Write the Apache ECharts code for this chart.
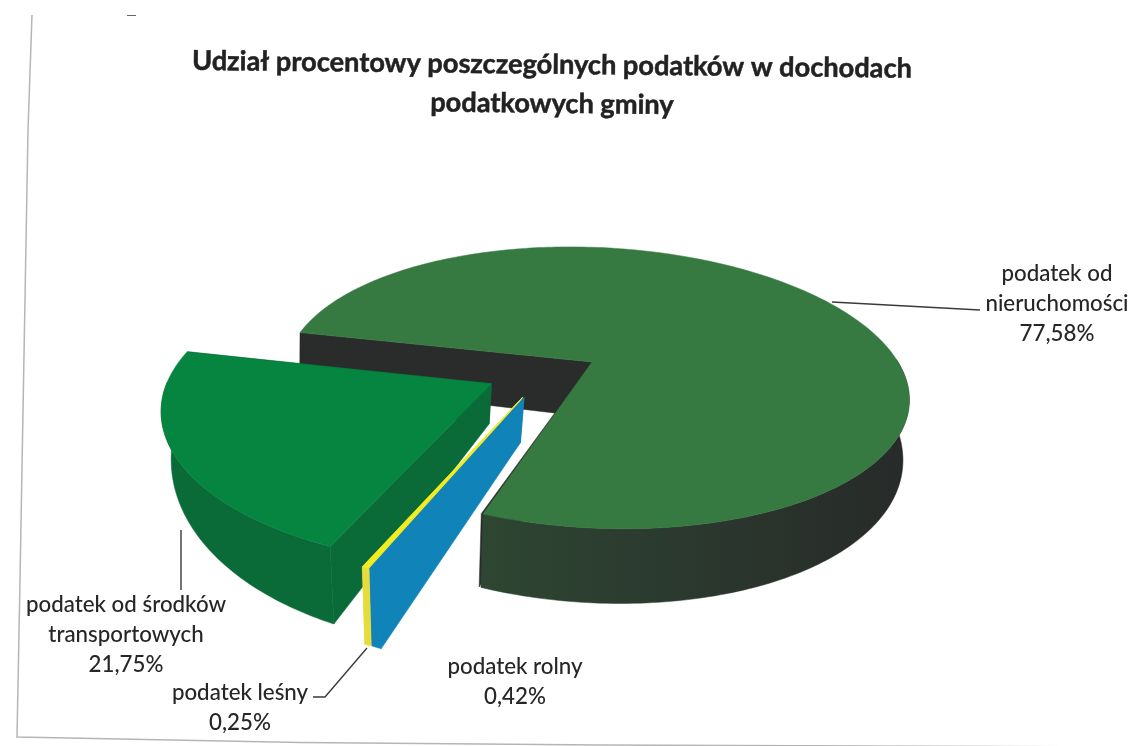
<!DOCTYPE html>
<html>
<head>
<meta charset="utf-8">
<title>Udział procentowy podatków</title>
<script src="https://cdn.jsdelivr.net/npm/echarts@6/dist/echarts.min.js"></script>
<style>
html, body { margin: 0; padding: 0; background: #fff; }
#main { width: 1131px; height: 746px; }
</style>
</head>
<body>
<div id="main"></div>
<script>
var categories = ['podatek od\nnieruchomości', 'podatek rolny', 'podatek leśny', 'podatek od środków\ntransportowych'];
var values = [77.58, 0.42, 0.25, 21.75];
var titleLines = ['Udział procentowy poszczególnych podatków w dochodach', 'podatkowych gminy'];

// look of the slices, same order as categories
var topColors = ['#377a41', '#1083b8', '#f2ee1e', '#05853f'];
var cutColors = ['#2a2b2b', '#1083b8', '#e6dc3e', '#0a6b39'];
var sideColors = ['#2b3a2e', '#1083b8', '#e6dc3e', '#0a6b39'];
var drawOrder = [0, 3, 2, 1];

// projection of the tilted pie
var cx = 592, cy = 362, tilt = 0.445, persp = 0.183;
var startAngle = 193;
var vanishX = [270, 428, 428, 428];
var shrink = [0.99, 0.9624, 0.9624, 0.9624];
var radius = [306, 316, 316, 316];
var offsetX = [0, -0.22, -0.225, -0.319];
var offsetY = [0, 0.241, 0.241, 0.15];
var skew = [0.085, 0.06, 0.06, 0.065];
var depth = [55, 36.4, 36.4, 34.1];
var depthGrow = [0.36, 0.986, 0.986, 1.2];

// label anchors (middle of the text block)
var labelX = [1057, 515, 240, 126];
var labelY = [304, 682, 708, 635];
var leaders = [
    [[832, 302], [980, 310]],
    [],
    [[367, 648], [325, 697], [313, 697]],
    [[181, 530], [181, 590]]
];

var total = values.reduce(function (a, b) { return a + b; }, 0);

function project(i, X, Y) {
    var s = 1 / (1 - persp * Y);
    return [cx + radius[i] * (X + skew[i] * Y) * s, cy + radius[i] * tilt * Y * s];
}

// point of slice i at angle a (deg), r = 0 is the apex
function topPoint(i, a, r) {
    var t = a * Math.PI / 180;
    return project(i, offsetX[i] + r * Math.cos(t), offsetY[i] + r * Math.sin(t));
}

function bottomPoint(i, a, r) {
    var t = a * Math.PI / 180;
    var Y = offsetY[i] + r * Math.sin(t);
    var p = topPoint(i, a, r);
    return [vanishX[i] + (p[0] - vanishX[i]) * shrink[i], p[1] + depth[i] * (1 + depthGrow[i] * Y)];
}

function polygon(points, fill, z2) {
    return { type: 'polygon', shape: { points: points }, style: { fill: fill, stroke: fill, lineWidth: 0.5 }, z2: z2, silent: true };
}

function cutFace(i, a, z2) {
    return polygon([topPoint(i, a, 0), topPoint(i, a, 1), bottomPoint(i, a, 1), bottomPoint(i, a, 0)], cutColors[i], z2);
}

function renderSlice(params, api) {
    var i = params.dataIndex;
    var before = 0;
    for (var n = 0; n < i; n++) before += values[n];
    var from = startAngle + before / total * 360;
    var to = from + api.value(0) / total * 360;
    var z = drawOrder[i] * 10;
    var children = [];

    children.push(cutFace(i, from, z));
    children.push(cutFace(i, to, z + 1));

    // outer wall, only the part that faces the viewer
    var wallTop = [], wallBottom = [];
    for (var a = from; a <= to + 0.001; a += Math.min(1, (to - from) / 4)) {
        if (Math.sin(a * Math.PI / 180) < -0.02) continue;
        wallTop.push(topPoint(i, a, 1));
        wallBottom.unshift(bottomPoint(i, a, 1));
    }
    if (wallTop.length > 1) {
        var wallFill = i === 0 ? {
            type: 'linear', x: 0, y: 0, x2: 1, y2: 0,
            colorStops: [{ offset: 0, color: '#2e4632' }, { offset: 0.5, color: '#2b382e' }, { offset: 1, color: '#272a29' }]
        } : sideColors[i];
        children.push(polygon(wallTop.concat(wallBottom), wallFill, z + 2));
    }

    // top surface
    var surface = [topPoint(i, from, 0)];
    for (var b = from; b <= to + 0.001; b += Math.min(1, (to - from) / 4)) {
        surface.push(topPoint(i, b, 1));
    }
    children.push(polygon(surface, topColors[i], z + 3));

    // leader line and label
    if (leaders[i].length) {
        children.push({
            type: 'polyline', shape: { points: leaders[i] },
            style: { fill: null, stroke: '#3a3a3a', lineWidth: 1.4 }, z2: 60, silent: true
        });
    }
    children.push({
        type: 'text', x: labelX[i], y: labelY[i], z2: 61, silent: true,
        style: {
            text: categories[i] + '\n' + api.value(0).toFixed(2).replace('.', ',') + '%',
            fill: '#262626', font: '500 22.3px Lato, sans-serif', align: 'center', verticalAlign: 'middle', lineHeight: 30
        }
    });
    return { type: 'group', children: children };
}

var myChart = echarts.init(document.getElementById('main'), null, { renderer: 'canvas' });

var option = {
    backgroundColor: '#fff',
    animation: false,
    graphic: [
        // frame of the scanned page
        { type: 'polyline', shape: { points: [[32, 15], [28, 130], [20, 580], [17, 737], [300, 742.5], [600, 745], [1131, 747]] }, style: { fill: null, stroke: '#b5b5b5', lineWidth: 1.5 } },
        { type: 'line', shape: { x1: 127, y1: 15.5, x2: 136, y2: 15.5 }, style: { stroke: '#666', lineWidth: 1 } },
        {
            type: 'text', x: 552, y: 65, rotation: -0.011,
            style: { text: titleLines[0], fill: '#222', stroke: '#222', lineWidth: 0.5, font: 'bold 27.2px Lato, sans-serif', align: 'center', verticalAlign: 'middle' }
        },
        {
            type: 'text', x: 552, y: 104, rotation: -0.011,
            style: { text: titleLines[1], fill: '#222', stroke: '#222', lineWidth: 0.5, font: 'bold 27.2px Lato, sans-serif', align: 'center', verticalAlign: 'middle' }
        }
    ],
    series: [{
        type: 'custom',
        coordinateSystem: 'none',
        renderItem: renderSlice,
        data: values.map(function (v) { return [v]; })
    }]
};

myChart.setOption(option);
</script>
</body>
</html>
